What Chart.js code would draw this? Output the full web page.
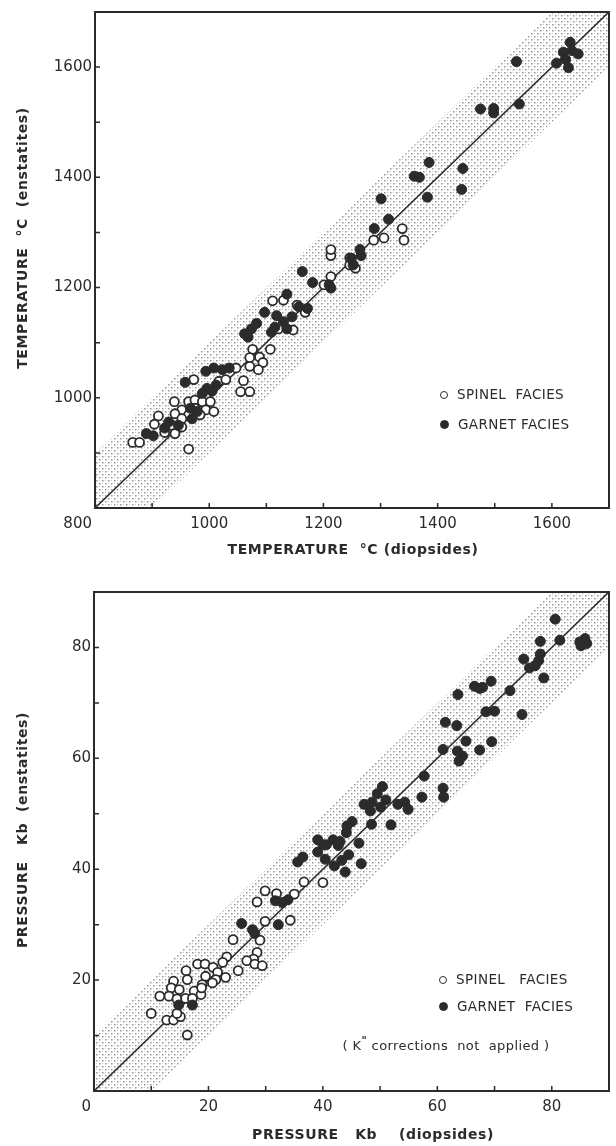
<!DOCTYPE html>
<html>
<head>
<meta charset="utf-8">
<script src="https://cdn.jsdelivr.net/npm/chart.js@4.4.1/dist/chart.umd.min.js"></script>
<style>
  body { margin: 0; background: #fff; }
  #page { position: relative; width: 616px; height: 1146px; overflow: hidden; font-family: "DejaVu Sans", sans-serif; color: #2b2b2b; }
  .box { position: absolute; left: 0; width: 616px; }
  .title { position: absolute; white-space: nowrap; font-weight: bold; font-size: 14px; letter-spacing: 0.6px; transform: translate(-50%, -50%); }
  .ytitle { transform: translate(-50%, -50%) rotate(-90deg); }
  .key { position: absolute; white-space: nowrap; font-size: 13.5px; letter-spacing: 0.4px; transform: translateY(-50%); }
  .dot { display: inline-block; width: 8px; height: 8px; border-radius: 50%; border: 1.5px solid #2b2b2b; box-sizing: border-box; margin-right: 9px; vertical-align: 0px; }
  .dot.full { background: #2b2b2b; width: 9px; height: 9px; }
  .note { position: absolute; white-space: nowrap; font-size: 13px; letter-spacing: 0.4px; transform: translate(-50%, -50%); }
</style>
</head>
<body>
<div id="page">
  <div class="box" style="top:0;height:560px"><canvas id="tempChart" width="616" height="560"></canvas></div>
  <div class="box" style="top:580px;height:566px"><canvas id="pressChart" width="616" height="566"></canvas></div>

  <div class="title ytitle" style="left:22px;top:238px">TEMPERATURE&nbsp; °C&nbsp; (enstatites)</div>
  <div class="title" style="left:353px;top:549px">TEMPERATURE&nbsp; °C (diopsides)</div>
  <div class="key" style="left:440px;top:394px"><span class="dot"></span>SPINEL&nbsp; FACIES</div>
  <div class="key" style="left:440px;top:424px"><span class="dot full"></span>GARNET FACIES</div>

  <div class="title ytitle" style="left:22px;top:830px">PRESSURE&nbsp;&nbsp; Kb&nbsp; (enstatites)</div>
  <div class="title" style="left:373px;top:1134px">PRESSURE&nbsp;&nbsp; Kb&nbsp;&nbsp;&nbsp; (diopsides)</div>
  <div class="key" style="left:439px;top:979px"><span class="dot"></span>SPINEL&nbsp;&nbsp; FACIES</div>
  <div class="key" style="left:439px;top:1006px"><span class="dot full"></span>GARNET&nbsp; FACIES</div>
  <div class="note" style="left:446px;top:1044px">( K<sup style="font-size:10px;font-weight:bold">"</sup> corrections&nbsp; not&nbsp; applied )</div>
</div>

<script>
// temperature panel: enstatites (y) vs diopsides (x), degrees C
const tempSpinelX = [1338, 1341, 1306, 1288, 1213, 1246, 1213, 1256, 1246, 1213, 1201,
    1111, 1130, 1121, 1147, 1168, 1154, 1107, 1076, 1071, 1088, 1094, 1071, 1086, 1060,
    1055, 1071, 1047, 973, 1017, 1029, 939, 964, 975, 988, 1002, 952, 975, 994, 1008,
    940, 964, 984, 952, 911, 904, 934, 952, 940, 922, 866, 878, 964];
const tempSpinelY = [1307, 1286, 1290, 1286, 1258, 1241, 1269, 1235, 1254, 1220, 1205,
    1176, 1177, 1125, 1123, 1155, 1168, 1088, 1088, 1073, 1074, 1064, 1057, 1051, 1031,
    1011, 1011, 1054, 1033, 1030, 1033, 993, 993, 996, 993, 993, 978, 981, 978, 975,
    971, 969, 969, 962, 967, 952, 950, 947, 935, 937, 919, 919, 907];

const tempGarnetX = [1632, 1608, 1620, 1635, 1646, 1629, 1624, 1538, 1543, 1475, 1498,
    1498, 1385, 1359, 1368, 1444, 1442, 1382, 1301, 1314, 1289, 1266, 1252, 1264, 1249,
    1163, 1181, 1210, 1213, 1136, 1097, 1118, 1130, 1145, 1157, 1172, 1115, 1136, 1109,
    1062, 1074, 1083, 1068, 958, 994, 1008, 1023, 1035, 996, 1005, 988, 1012,
    967, 922, 902, 890, 970, 979, 929, 946];
const tempGarnetY = [1645, 1607, 1627, 1630, 1624, 1599, 1614, 1610, 1533, 1524, 1525,
    1517, 1427, 1402, 1400, 1416, 1378, 1364, 1361, 1324, 1307, 1258, 1241, 1269, 1253,
    1229, 1209, 1205, 1199, 1188, 1155, 1149, 1138, 1147, 1165, 1162, 1128, 1125, 1119,
    1116, 1125, 1135, 1110, 1028, 1048, 1054, 1051, 1054, 1017, 1012, 1008, 1023,
    981, 945, 931, 935, 962, 975, 956, 950];

// pressure panel: enstatites (y) vs diopsides (x), Kb
const pressSpinelX = [40.0, 36.7, 29.9, 28.5, 31.9, 35.0, 29.9, 34.3, 24.3, 29.0, 28.5,
    27.9, 26.7, 28.1, 29.4, 25.2, 23.2, 22.5, 18.1, 19.4, 20.8, 21.6, 19.5, 21.3, 23.0,
    20.7, 18.9, 16.1, 16.3, 13.9, 13.5, 14.9, 13.1, 11.5, 14.5, 16.0, 17.5, 18.7, 17.2,
    18.8, 12.7, 13.9, 15.1, 14.5, 10.0, 16.3];
const pressSpinelY = [37.6, 37.7, 36.1, 34.1, 35.6, 35.5, 30.6, 30.8, 27.3, 27.2, 25.0,
    23.8, 23.5, 22.9, 22.6, 21.7, 24.2, 23.2, 22.9, 22.9, 22.3, 21.4, 20.7, 20.1, 20.5,
    19.5, 19.2, 21.7, 20.1, 19.8, 18.6, 18.3, 17.1, 17.1, 16.6, 16.7, 18.0, 17.4, 16.7,
    18.6, 12.8, 12.8, 13.4, 14.0, 14.0, 10.1];

const pressGarnetX = [80.6, 78.0, 81.4, 84.9, 85.8, 86.1, 85.1, 75.1, 78.0, 77.7, 77.1,
    76.1, 78.6, 72.7, 66.5, 67.9, 69.4, 67.4, 63.6, 68.5, 70.0, 74.8, 61.4, 63.4, 65.0,
    61.0, 63.5, 64.4, 63.8, 67.4, 69.5, 57.7, 61.0, 61.1, 57.3, 50.4, 49.5, 51.0, 48.6,
    47.2, 48.3, 50.1, 53.1, 54.3, 54.9, 45.1, 48.5, 51.9, 44.1, 40.6, 42.7, 44.2, 35.6,
    36.5, 39.1, 40.0, 41.8, 43.0, 39.1, 40.4, 42.0, 43.3, 43.9, 44.5, 46.3, 46.7, 31.7,
    32.9, 33.9, 32.2, 25.8, 27.7, 28.1, 14.8, 17.2];
const pressGarnetY = [85.1, 81.1, 81.3, 81.0, 81.6, 80.7, 80.3, 77.9, 78.8, 77.6, 76.7,
    76.3, 74.5, 72.2, 73.0, 72.8, 73.9, 72.6, 71.5, 68.4, 68.5, 67.9, 66.5, 65.9, 63.1,
    61.6, 61.3, 60.4, 59.5, 61.5, 63.0, 56.8, 54.6, 53.0, 53.0, 54.9, 53.6, 52.5, 52.1,
    51.7, 50.5, 51.2, 51.7, 52.1, 50.8, 48.6, 48.1, 48.0, 46.6, 44.4, 44.3, 47.8, 41.3,
    42.2, 43.1, 44.4, 45.3, 45.0, 45.3, 41.8, 40.6, 41.6, 39.5, 42.6, 44.7, 41.0, 34.3,
    34.0, 34.5, 30.0, 30.2, 29.1, 28.4, 15.5, 15.5];

// 1:1 lines and the stippled band around them
const tempRange = [800, 1700];
const tempBandX = [800, 800, 1600, 1700, 1700, 900];
const tempBandY = [800, 900, 1700, 1700, 1600, 800];
const tempLabels = [1000, 1200, 1400, 1600];

const pressRange = [0, 90];
const pressBandX = [0, 0, 80, 90, 90, 10];
const pressBandY = [0, 10, 90, 90, 80, 0];
const pressLabels = [20, 40, 60, 80];

const ink = '#2b2b2b';

function zip(xs, ys) {
    return xs.map((x, i) => ({ x: x, y: ys[i] }));
}

function stipple() {
    const tile = document.createElement('canvas');
    tile.width = 6;
    tile.height = 6;
    const c = tile.getContext('2d');
    c.fillStyle = 'rgba(80,80,80,0.6)';
    c.fillRect(0, 0, 1.5, 1.5);
    c.fillRect(3, 3, 1.5, 1.5);
    c.fillStyle = 'rgba(130,130,130,0.45)';
    c.fillRect(3, 0, 1, 1);
    c.fillRect(0, 3, 1, 1);
    return c.createPattern(tile, 'repeat');
}

// frame, inward tick marks and the shared corner label
const framePlugin = {
    id: 'frame',
    afterDraw(chart, args, opts) {
        const ctx = chart.ctx;
        const a = chart.chartArea;
        const xs = chart.scales.x;
        const ys = chart.scales.y;
        ctx.save();
        ctx.strokeStyle = ink;
        ctx.lineWidth = 1.5;
        ctx.beginPath();
        xs.ticks.forEach(t => {
            const px = xs.getPixelForValue(t.value);
            ctx.moveTo(px, a.bottom);
            ctx.lineTo(px, a.bottom - 5);
        });
        ys.ticks.forEach(t => {
            const py = ys.getPixelForValue(t.value);
            ctx.moveTo(a.left, py);
            ctx.lineTo(a.left + 5, py);
        });
        ctx.stroke();
        ctx.lineWidth = 2;
        ctx.strokeRect(a.left, a.top, a.right - a.left, a.bottom - a.top);
        ctx.fillStyle = ink;
        ctx.font = '15px "DejaVu Sans"';
        ctx.textAlign = 'right';
        ctx.textBaseline = 'middle';
        ctx.fillText(String(opts.corner), xs.getPixelForValue(opts.corner) - 3, ys.getPixelForValue(opts.corner) + 16);
        ctx.restore();
    }
};

function makeChart(id, cfg) {
    const [lo, hi] = cfg.range;
    const tickCb = v => cfg.labels.includes(v) ? String(v) : '';
    const tickFont = { family: 'DejaVu Sans', size: 15 };
    new Chart(document.getElementById(id).getContext('2d'), {
        type: 'scatter',
        data: {
            datasets: [
                {
                    label: 'garnet',
                    data: zip(cfg.garnetX, cfg.garnetY),
                    pointRadius: 5,
                    backgroundColor: ink,
                    borderColor: ink,
                    borderWidth: 1,
                    order: 0
                },
                {
                    label: 'spinel',
                    data: zip(cfg.spinelX, cfg.spinelY),
                    pointRadius: 4.5,
                    backgroundColor: '#fff',
                    borderColor: ink,
                    borderWidth: 1.8,
                    order: 1
                },
                {
                    type: 'line',
                    label: 'one to one',
                    data: zip(cfg.range, cfg.range),
                    showLine: true,
                    borderColor: ink,
                    borderWidth: 1.6,
                    pointRadius: 0,
                    fill: false,
                    order: 2
                },
                {
                    type: 'line',
                    label: 'band',
                    data: zip(cfg.bandX, cfg.bandY),
                    showLine: true,
                    borderWidth: 0,
                    borderColor: 'rgba(0,0,0,0)',
                    backgroundColor: stipple(),
                    pointRadius: 0,
                    tension: 0,
                    fill: 'shape',
                    order: 3
                }
            ]
        },
        options: {
            responsive: false,
            animation: false,
            layout: { padding: cfg.padding },
            plugins: {
                legend: { display: false },
                tooltip: { enabled: false },
                frame: { corner: lo }
            },
            scales: {
                x: {
                    type: 'linear',
                    min: lo,
                    max: hi,
                    ticks: { stepSize: cfg.step, autoSkip: false, maxRotation: 0, padding: 7, color: ink, font: tickFont, callback: tickCb },
                    grid: { display: false, drawTicks: false },
                    border: { display: false },
                    afterFit: s => { s.height = 30; }
                },
                y: {
                    type: 'linear',
                    min: lo,
                    max: hi,
                    ticks: { stepSize: cfg.step, autoSkip: false, padding: 3, color: ink, font: tickFont, callback: tickCb },
                    grid: { display: false, drawTicks: false },
                    border: { display: false },
                    afterFit: s => { s.width = cfg.axisWidth; }
                }
            }
        },
        plugins: [framePlugin]
    });
}

document.addEventListener('DOMContentLoaded', () => {
    // Temperature chart
    makeChart('tempChart', {
        range: tempRange, step: 100, labels: tempLabels,
        spinelX: tempSpinelX, spinelY: tempSpinelY,
        garnetX: tempGarnetX, garnetY: tempGarnetY,
        bandX: tempBandX, bandY: tempBandY,
        padding: { top: 7, right: 3, bottom: 22, left: 0 },
        axisWidth: 95
    });

    // Pressure chart
    makeChart('pressChart', {
        range: pressRange, step: 10, labels: pressLabels,
        spinelX: pressSpinelX, spinelY: pressSpinelY,
        garnetX: pressGarnetX, garnetY: pressGarnetY,
        bandX: pressBandX, bandY: pressBandY,
        padding: { top: 9, right: 4, bottom: 25, left: 0 },
        axisWidth: 94
    });
});
</script>
</body>
</html>
